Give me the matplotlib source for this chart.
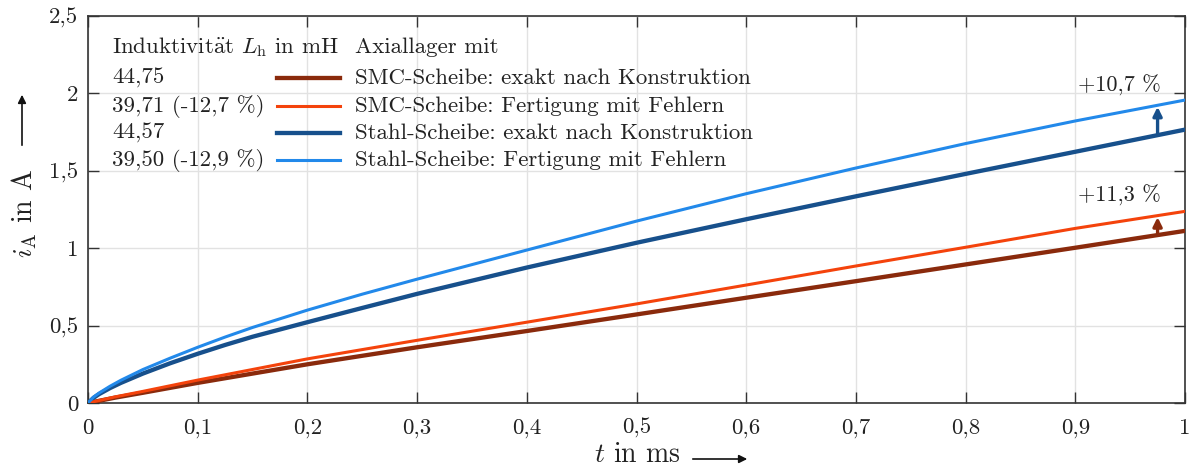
import matplotlib
matplotlib.use("Agg")
import matplotlib.pyplot as plt
from matplotlib.lines import Line2D
from matplotlib.patches import FancyArrowPatch

plt.rcParams["font.family"] = ["cmr10", "DejaVu Serif"]
plt.rcParams["mathtext.fontset"] = "cm"
plt.rcParams["axes.unicode_minus"] = False
plt.rcParams["axes.formatter.use_mathtext"] = True

# time axis in ms
t_blue = [0, 0.005, 0.01, 0.02, 0.03, 0.05, 0.075, 0.1, 0.125, 0.15, 0.2, 0.25, 0.3, 0.4,
          0.5, 0.6, 0.7, 0.8, 0.9, 1.0]
t_red = [0, 0.025, 0.05, 0.1, 0.2, 0.3, 0.4, 0.5, 0.6, 0.7, 0.8, 0.9, 1.0]

# coil current i_A in A
smc_exact = [0, 0.035, 0.066, 0.13, 0.25, 0.36, 0.465, 0.572, 0.68, 0.787, 0.895, 1.003, 1.112]
smc_faulty = [0, 0.04, 0.075, 0.148, 0.285, 0.405, 0.522, 0.64, 0.762, 0.885, 1.006, 1.128, 1.238]
steel_exact = [0, 0.033, 0.057, 0.096, 0.130, 0.19, 0.257, 0.318, 0.375, 0.428, 0.522,
               0.614, 0.705, 0.875, 1.035, 1.187, 1.335, 1.48, 1.623, 1.766]
steel_faulty = [0, 0.038, 0.064, 0.108, 0.147, 0.216, 0.29, 0.36, 0.426, 0.488, 0.60,
                0.703, 0.80, 0.988, 1.175, 1.352, 1.518, 1.676, 1.822, 1.957]

series_labels = [
    "SMC-Scheibe: exakt nach Konstruktion",
    "SMC-Scheibe: Fertigung mit Fehlern",
    "Stahl-Scheibe: exakt nach Konstruktion",
    "Stahl-Scheibe: Fertigung mit Fehlern",
]
inductance_labels = ["44,75", "39,71 (-12,7 %)", "44,57", "39,50 (-12,9 %)"]
increase_labels = ["+10,7 %", "+11,3 %"]

x_ticks = [0, 0.1, 0.2, 0.3, 0.4, 0.5, 0.6, 0.7, 0.8, 0.9, 1.0]
y_ticks = [0, 0.5, 1.0, 1.5, 2.0, 2.5]

c_smc_exact = "#8a2a0c"
c_smc_faulty = "#f4430c"
c_steel_exact = "#17508c"
c_steel_faulty = "#2289ea"
lw_exact = 3.1
lw_faulty = 2.2
text_col = "#222222"

W, H = 1197, 469
fig = plt.figure(figsize=(W / 100, H / 100), dpi=100)
ax = fig.add_axes([88 / W, 1 - 403 / H, (1185 - 88) / W, (403 - 16) / H])

ax.plot(t_red, smc_exact, color=c_smc_exact, lw=lw_exact, solid_capstyle="round", zorder=3)
ax.plot(t_red, smc_faulty, color=c_smc_faulty, lw=lw_faulty, solid_capstyle="round", zorder=4)
ax.plot(t_blue, steel_exact, color=c_steel_exact, lw=lw_exact, solid_capstyle="round", zorder=3)
ax.plot(t_blue, steel_faulty, color=c_steel_faulty, lw=lw_faulty, solid_capstyle="round", zorder=4)

ax.set_xlim(0, 1)
ax.set_ylim(0, 2.5)


def comma(v):
    return f"{v:g}".replace(".", ",")


ax.set_xticks(x_ticks)
ax.set_xticklabels([comma(v) for v in x_ticks])
ax.set_yticks(y_ticks)
ax.set_yticklabels([comma(v) for v in y_ticks])
ax.tick_params(direction="in", length=8, width=1.0, color="#333333",
               top=True, right=True, labelsize=16.5, labelcolor=text_col)
ax.tick_params(axis="x", pad=11)
ax.tick_params(axis="y", pad=7)
ax.grid(True, color="#e2e2e2", lw=1.0, zorder=0)
ax.set_axisbelow(True)
for s in ax.spines.values():
    s.set_color("#333333")
    s.set_linewidth(1.2)

# arrows marking the current increase near the end of the interval
t_arrow = 0.975


def value_at(ts, ys, x):
    for i in range(len(ts) - 1):
        if ts[i] <= x <= ts[i + 1]:
            f = (x - ts[i]) / (ts[i + 1] - ts[i])
            return ys[i] + f * (ys[i + 1] - ys[i])
    return ys[-1]


for ts, lo, hi, col, lab in [
    (t_blue, steel_exact, steel_faulty, c_steel_exact, increase_labels[0]),
    (t_red, smc_exact, smc_faulty, c_smc_exact, increase_labels[1]),
]:
    y0 = value_at(ts, lo, t_arrow)
    y1 = value_at(ts, hi, t_arrow)
    ax.annotate("", xy=(t_arrow, y1 - 0.01), xytext=(t_arrow, y0),
                arrowprops=dict(arrowstyle="-|>", color=col, lw=2.4,
                                mutation_scale=13, shrinkA=0, shrinkB=0), zorder=5)
    ax.text(t_arrow + 0.003, y1 + 0.06, lab, ha="right", va="bottom", fontsize=16,
            color=text_col)


# legend block
def ax_xy(px, py):
    return (px - 88) / 1097, (403 - py) / 387


fs = 16.5
x, y = ax_xy(112, 47)
ax.text(x, y, r"Induktivit$\ddot{\mathrm{a}}$t $L_{\mathrm{h}}$ in mH", transform=ax.transAxes,
        fontsize=fs, va="center", ha="left", color=text_col)
x, y = ax_xy(355, 47)
ax.text(x, y, "Axiallager mit", transform=ax.transAxes,
        fontsize=fs, va="center", ha="left", color=text_col)

row_y = [78, 106, 133, 160]
colors = [c_smc_exact, c_smc_faulty, c_steel_exact, c_steel_faulty]
widths = [lw_exact, lw_faulty, lw_exact, lw_faulty]
for py, ind, lab, col, lw in zip(row_y, inductance_labels, series_labels, colors, widths):
    x, y = ax_xy(112, py)
    ax.text(x, y, ind, transform=ax.transAxes, fontsize=fs, va="center", ha="left",
            color=text_col)
    x0, yl = ax_xy(277, py)
    x1, _ = ax_xy(340, py)
    ax.add_line(Line2D([x0, x1], [yl, yl], transform=ax.transAxes, color=col, lw=lw))
    x, y = ax_xy(355, py)
    ax.text(x, y, lab, transform=ax.transAxes, fontsize=fs, va="center", ha="left",
            color=text_col)

# axis labels with direction arrows
fig.text(637 / W, 1 - 455 / H, r"$t$ in ms", fontsize=20, ha="center", va="center",
         color=text_col)
fig.add_artist(FancyArrowPatch(
    (690 / W, 1 - 459 / H), (750 / W, 1 - 459 / H), transform=fig.transFigure,
    arrowstyle="-|>", mutation_scale=12, color="#111111", lw=1.2))

fig.text(24 / W, 1 - 213 / H, r"$i_{\mathrm{A}}$ in A", fontsize=20, rotation=90,
         ha="center", va="center", color=text_col)
fig.add_artist(FancyArrowPatch(
    (22 / W, 1 - 148 / H), (22 / W, 1 - 92 / H), transform=fig.transFigure,
    arrowstyle="-|>", mutation_scale=12, color="#111111", lw=1.2))

fig.savefig("out.png", dpi=100)
